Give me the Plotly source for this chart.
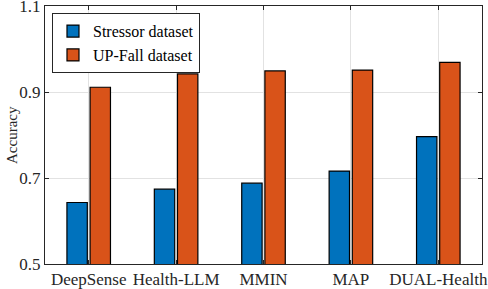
import plotly.graph_objects as go

categories = ["DeepSense", "Health-LLM", "MMIN", "MAP", "DUAL-Health"]
stressor = [0.643, 0.674, 0.688, 0.716, 0.796]
upfall = [0.911, 0.942, 0.949, 0.951, 0.969]
y_ticks = [0.5, 0.7, 0.9, 1.1]
y_tick_labels = ["0.5", "0.7", "0.9", "1.1"]

font_family = "Liberation Serif, Times New Roman, serif"
axis_color = "#262626"

fig = go.Figure()
fig.add_trace(go.Bar(x=categories, y=stressor, name="Stressor dataset",
                     marker=dict(color="#0072BD", line=dict(color="black", width=1.2))))
fig.add_trace(go.Bar(x=categories, y=upfall, name="UP-Fall dataset",
                     marker=dict(color="#D95319", line=dict(color="black", width=1.2))))

fig.update_layout(
    width=488, height=289,
    margin=dict(l=45, r=6, t=6, b=25, autoexpand=False),
    paper_bgcolor="white", plot_bgcolor="white",
    font=dict(family=font_family, size=17, color=axis_color),
    barmode="group", bargap=0.47, bargroupgap=0.12,
    showlegend=True,
    legend=dict(x=0.016, y=0.972, xanchor="left", yanchor="top",
                bordercolor=axis_color, borderwidth=1, bgcolor="white",
                font=dict(family="Liberation Serif", size=16, color="black",
                          weight="normal", style="normal"),
                tracegroupgap=0, itemwidth=30),
    annotations=[dict(text="Accuracy", xref="paper", yref="paper", x=0, y=0.5,
                      xshift=-33, textangle=-90, showarrow=False,
                      xanchor="center", yanchor="middle",
                      font=dict(family="Liberation Serif", size=15, color=axis_color))],
)
fig.update_xaxes(
    range=[-0.5, 4.5], showline=True, linecolor=axis_color, linewidth=1,
    mirror="allticks", ticks="inside", ticklen=4, tickcolor=axis_color,
    showgrid=True, gridcolor="#e2e2e2", gridwidth=1, automargin=False,
    ticklabeloverflow="allow",
    tickfont=dict(family=font_family, size=17, color=axis_color),
)
fig.update_yaxes(
    range=[0.5, 1.1], tickvals=y_ticks, ticktext=y_tick_labels,
    showline=True, linecolor=axis_color, linewidth=1,
    mirror="allticks", ticks="inside", ticklen=4, tickcolor=axis_color,
    showgrid=True, gridcolor="#e2e2e2", gridwidth=1, zeroline=False,
    automargin=False, ticklabeloverflow="allow",
    tickfont=dict(family=font_family, size=17, color=axis_color),
)

fig.write_html("out.html", config={"displayModeBar": False},
               post_script="document.body.style.margin='0px';")
